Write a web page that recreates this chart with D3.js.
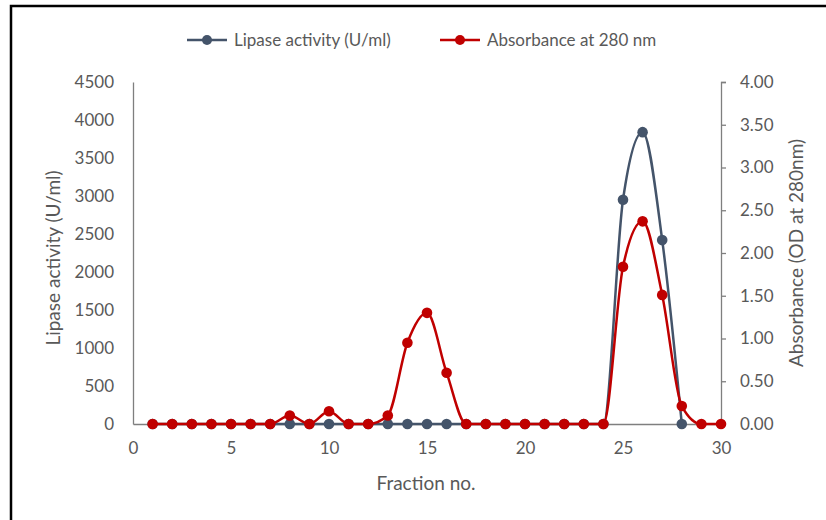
<!DOCTYPE html>
<html>
<head>
<meta charset="utf-8">
<script src="https://cdn.jsdelivr.net/npm/d3@7"></script>
<style>
  body { margin: 0; background: #fff; }
  svg text { font-family: Lato, "Open Sans", sans-serif; fill: #595959; }
</style>
</head>
<body>
<svg id="chart" width="826" height="520"></svg>
<script>
// Fraction numbers
var fractions = d3.range(1, 31);

// Lipase activity (U/ml), fractions 1-28
var lipase = [0, 0, 0, 0, 0, 0, 0, 0, 0, 0,
              0, 0, 0, 0, 0, 0, 0, 0, 0, 0,
              0, 0, 0, 0, 2950, 3840, 2420, 0];

// Absorbance at 280 nm, fractions 1-30
var absorbance = [0, 0, 0, 0, 0, 0, 0, 0.10, 0, 0.15,
                  0, 0, 0.10, 0.95, 1.30, 0.60, 0, 0, 0, 0,
                  0, 0, 0, 0, 1.84, 2.37, 1.51, 0.21, 0, 0];

var xTicks = [0, 5, 10, 15, 20, 25, 30];
var leftTicks = d3.range(0, 4501, 500);
var rightTicks = d3.range(0, 4.01, 0.5);

var blue = '#44546A', red = '#C00000', axisGrey = '#7f7f7f';

var svg = d3.select('#chart');

// outer frame
svg.append('rect')
  .attr('x', 11).attr('y', 6)
  .attr('width', 900).attr('height', 600)
  .attr('fill', 'none').attr('stroke', '#000').attr('stroke-width', 2.5);

var plotLeft = 133, plotRight = 721, plotTop = 82, plotBottom = 424;

var x = d3.scaleLinear().domain([0, 30]).range([plotLeft, plotRight]);
var yL = d3.scaleLinear().domain([0, 4500]).range([plotBottom, plotTop]);
var yR = d3.scaleLinear().domain([0, 4]).range([plotBottom, plotTop]);

// x axis
var gx = svg.append('g').attr('transform', 'translate(0,' + plotBottom + ')')
  .call(d3.axisBottom(x).tickValues(xTicks).tickSize(0).tickPadding(18));
gx.select('.domain').attr('stroke', axisGrey).attr('stroke-width', 1.3);

// left axis
var gl = svg.append('g').attr('transform', 'translate(' + plotLeft + ',0)')
  .call(d3.axisLeft(yL).tickValues(leftTicks).tickSize(0).tickPadding(19).tickFormat(d3.format('d')));
gl.select('.domain').attr('stroke', axisGrey).attr('stroke-width', 1.3);

// right axis
var gr = svg.append('g').attr('transform', 'translate(' + plotRight + ',0)')
  .call(d3.axisRight(yR).tickValues(rightTicks).tickSize(5).tickSizeOuter(5).tickPadding(14).tickFormat(d3.format('.2f')));
gr.select('.domain').attr('stroke', axisGrey).attr('stroke-width', 1.3);
gr.selectAll('.tick line').attr('stroke', axisGrey).attr('stroke-width', 1.3);

svg.selectAll('.tick text').attr('font-size', 17).attr('fill', '#595959');

// axis titles
svg.append('text').attr('x', 426).attr('y', 490).attr('text-anchor', 'middle')
  .attr('font-size', 19).text('Fraction no.');
svg.append('text').attr('transform', 'translate(60,258) rotate(-90)').attr('text-anchor', 'middle')
  .attr('font-size', 19).text('Lipase activity (U/ml)');
svg.append('text').attr('transform', 'translate(803,253) rotate(-90)').attr('text-anchor', 'middle')
  .attr('font-size', 19).text('Absorbance (OD at 280nm)');

// series (smoothed lines, no overshoot below zero)
function drawSeries(values, yScale, color) {
  var pts = values.map(function(v, i) { return [fractions[i], v]; });
  var line = d3.line()
    .x(function(d) { return x(d[0]); })
    .y(function(d) { return yScale(d[1]); })
    .curve(d3.curveMonotoneX);
  svg.append('path').datum(pts)
    .attr('d', line).attr('fill', 'none')
    .attr('stroke', color).attr('stroke-width', 2.5);
  svg.append('g').selectAll('circle').data(pts).enter()
    .append('circle')
    .attr('cx', function(d) { return x(d[0]); })
    .attr('cy', function(d) { return yScale(d[1]); })
    .attr('r', 5.3).attr('fill', color);
}

drawSeries(lipase, yL, blue);
drawSeries(absorbance, yR, red);

// legend
var legend = [
  {name: 'Lipase activity (U/ml)', color: blue, x: 187},
  {name: 'Absorbance at 280 nm', color: red, x: 440}
];
var lg = svg.append('g').selectAll('g').data(legend).enter().append('g')
  .attr('transform', function(d) { return 'translate(' + d.x + ',40)'; });
lg.append('line').attr('x1', 0).attr('x2', 40).attr('y1', 0).attr('y2', 0)
  .attr('stroke', function(d) { return d.color; }).attr('stroke-width', 2.5);
lg.append('circle').attr('cx', 20).attr('r', 5).attr('fill', function(d) { return d.color; });
lg.append('text').attr('x', 47).attr('y', 6).attr('font-size', 17)
  .text(function(d) { return d.name; });
</script>
</body>
</html>
